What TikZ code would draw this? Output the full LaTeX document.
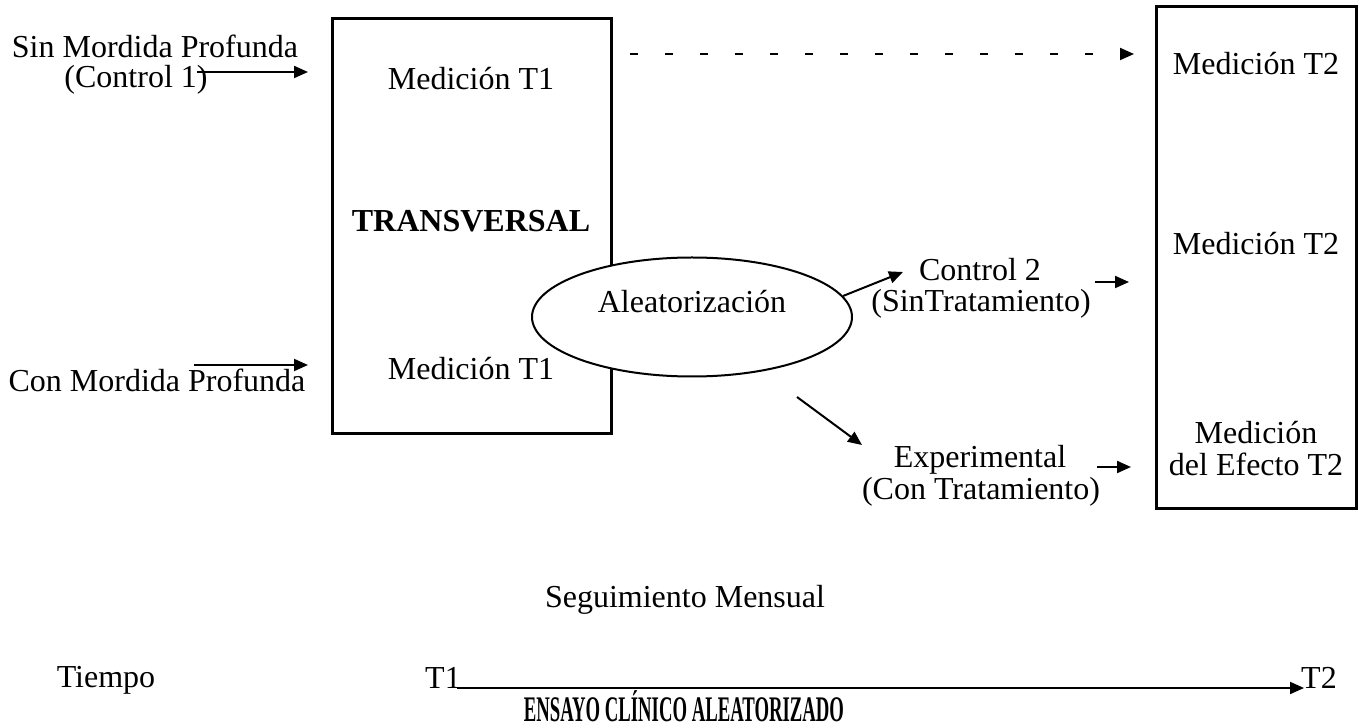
\documentclass[tikz,border=0pt]{standalone}
\usepackage{fontspec}
\setmainfont{Liberation Serif}
\usetikzlibrary{arrows.meta,shapes.geometric}

\begin{document}
\begin{tikzpicture}[x=0.5pt,y=-0.5pt,
    every node/.style={font=\fontsize{16}{19}\selectfont,inner sep=0pt,anchor=base},
    flecha/.style={-{Triangle[length=7pt,width=6pt]},line width=1pt},
    caja/.style={draw,line width=1.5pt,minimum width=#1,anchor=center},
    caja/.default=100pt]

    \useasboundingbox (0,0) rectangle (1369,726);

    % cajas
    \node[caja=139.5pt,minimum height=207.5pt] (trans) at (471.5,226.5) {};
    \node[caja=100pt,minimum height=250.5pt] (final) at (1256,257.5) {};
    \node[draw,ellipse,line width=1pt,fill=white,anchor=center,minimum width=160pt,minimum height=59.5pt] (elip) at (692,317) {};

    % textos
    \node (sinmp) at (155,58) {Sin Mordida Profunda};
    \node (ctrl1) at (136,88) {(Control 1)};
    \node (conmp) at (157,392) {Con Mordida Profunda};
    \node (medA) at (471,90) {Medición T1};
    \node (transv) at (471,232) {\bfseries TRANSVERSAL};
    \node (medB) at (471,380) {Medición T1};
    \node (aleat) at (692,313) {Aleatorización};
    \node (ctrl2) at (980,281) {Control 2};
    \node (sintrat) at (981,312) {(SinTratamiento)};
    \node (exper) at (980,467) {Experimental};
    \node (contrat) at (981,499) {(Con Tratamiento)};
    \node (medC) at (1256,75) {Medición T2};
    \node (medD) at (1256,255) {Medición T2};
    \node (medE) at (1256,444) {Medición};
    \node (efecto) at (1256,475) {del Efecto T2};
    \node (segui) at (685,607) {Seguimiento Mensual};
    \node (tiempo) at (106,687) {Tiempo};
    \node (tA) at (443,688) {T1};
    \node (tB) at (1319,688) {T2};
    \node (ensayo) at (684,721) {\fontsize{18}{20}\selectfont\scalebox{0.52}[1]{\bfseries ENSAYO CLÍNICO ALEATORIZADO}};

    % puntas
    \coordinate (p1) at (197,72);   \coordinate (q1) at (308,72);
    \coordinate (p2) at (194,365);  \coordinate (q2) at (308,365);
    \coordinate (p3) at (630,54);   \coordinate (q3) at (1134,54);
    \coordinate (p4) at (843,296);  \coordinate (q4) at (903,272);
    \coordinate (p5) at (1095,282); \coordinate (q5) at (1129,282);
    \coordinate (p6) at (797,397);  \coordinate (q6) at (862,445);
    \coordinate (p7) at (1097,467); \coordinate (q7) at (1131,467);
    \coordinate (p8) at (457,688);  \coordinate (q8) at (1304,688);

    \draw[flecha] (p1)--(q1);
    \draw[flecha] (p2)--(q2);
    \draw[flecha,dash pattern=on 4pt off 13.5pt] (p3)--(q3);
    \draw[flecha] (p4)--(q4);
    \draw[flecha] (p5)--(q5);
    \draw[flecha] (p6)--(q6);
    \draw[flecha] (p7)--(q7);
    \draw[flecha] (p8)--(q8);
\end{tikzpicture}
\end{document}
